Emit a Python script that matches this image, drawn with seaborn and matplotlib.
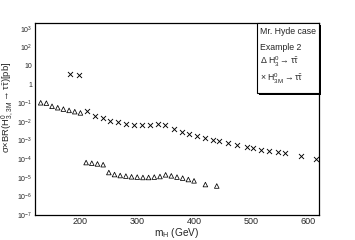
import matplotlib
matplotlib.use("Agg")
import numpy as np
import pandas as pd
import seaborn as sns
import matplotlib.pyplot as plt
from matplotlib.ticker import FixedLocator, FixedFormatter, MultipleLocator, LogLocator, NullFormatter
from matplotlib.patches import Rectangle

# -------------------------------
# DATA
# -------------------------------
# Delta: H3^0 -> tau tau
h3_mass = [130, 140, 150, 160, 170, 180, 190, 200,
           210, 220, 230, 240,
           250, 260, 270, 280, 290, 300, 310, 320, 330, 340, 350, 360, 370, 380, 390, 400,
           420, 440]
h3_xsec = [0.105, 0.10, 0.068, 0.057, 0.048, 0.041, 0.035, 0.030,
           6.5e-5, 6.0e-5, 5.5e-5, 5.0e-5,
           1.9e-5, 1.48e-5, 1.31e-5, 1.22e-5, 1.12e-5, 1.08e-5, 1.03e-5, 1.03e-5, 1.08e-5,
           1.16e-5, 1.43e-5, 1.26e-5, 1.08e-5, 9.5e-6, 8.0e-6, 6.8e-6,
           4.3e-6, 3.6e-6]

# x: H3M^0 -> tau tau
h3m_mass = [182, 197, 211, 226, 239, 252, 266, 280, 295, 308, 322, 336, 349,
            364, 378, 392, 406, 419, 433, 444, 460, 476, 494, 504, 518, 532,
            547, 561, 588, 615]
h3m_xsec = [3.7, 3.2, 0.039, 0.021, 0.016, 0.0106, 0.0094, 0.0073, 0.0067,
            0.0067, 0.0067, 0.0076, 0.0067, 0.0040, 0.0029, 0.0021, 0.0017,
            0.0014, 0.0011, 9.1e-4, 7.1e-4, 5.5e-4, 4.3e-4, 4.0e-4, 3.1e-4,
            2.7e-4, 2.3e-4, 2.1e-4, 1.4e-4, 1.07e-4]

y_tick_vals = [1e-7, 1e-6, 1e-5, 1e-4, 1e-3, 1e-2, 1e-1, 1, 10, 1e2, 1e3]
y_tick_labels = [r"$10^{-7}$", r"$10^{-6}$", r"$10^{-5}$", r"$10^{-4}$", r"$10^{-3}$",
                 r"$10^{-2}$", r"$10^{-1}$", "1", "10", r"$10^{2}$", r"$10^{3}$"]
x_tick_vals = [200, 300, 400, 500, 600]

legend_lines = ["Mr. Hyde case", "Example 2",
                r"$\Delta$ $\mathregular{H^0_3 \rightarrow \tau\bar{\tau}}$",
                r"$\times$ $\mathregular{H^0_{3M} \rightarrow \tau\bar{\tau}}$"]

df_h3 = pd.DataFrame({"mass": h3_mass, "xsec": h3_xsec})
df_h3m = pd.DataFrame({"mass": h3m_mass, "xsec": h3m_xsec})

# -------------------------------
# STYLE
# -------------------------------
sns.set_theme(style="white")
plt.rcParams["font.family"] = ["Liberation Sans", "DejaVu Sans"]
plt.rcParams["mathtext.fontset"] = "custom"
plt.rcParams["mathtext.rm"] = "Liberation Sans"
plt.rcParams["mathtext.it"] = "Liberation Sans:italic"
plt.rcParams["mathtext.bf"] = "Liberation Sans:bold"

fig = plt.figure(figsize=(3.55, 2.4), dpi=100)
ax = fig.add_axes([35 / 355, 25 / 240, 284 / 355, 192 / 240])

sns.scatterplot(data=df_h3, x="mass", y="xsec", ax=ax, marker="^", s=11,
                facecolors="none", edgecolor="black", linewidth=0.55)
sns.scatterplot(data=df_h3m, x="mass", y="xsec", ax=ax, marker="x", s=13,
                color="black", linewidth=0.65)

ax.set_yscale("log")
ax.set_xlim(120, 620)
ax.set_ylim(1e-7, 2e3)

ax.yaxis.set_major_locator(FixedLocator(y_tick_vals))
ax.yaxis.set_major_formatter(FixedFormatter(y_tick_labels))
ax.yaxis.set_minor_locator(LogLocator(base=10, subs=np.arange(2, 10), numticks=20))
ax.yaxis.set_minor_formatter(NullFormatter())
ax.xaxis.set_major_locator(FixedLocator(x_tick_vals))
ax.xaxis.set_minor_locator(MultipleLocator(20))

ax.tick_params(which="both", direction="in", top=False, right=False, color="black")
ax.tick_params(axis="x", which="major", length=4, width=0.7, labelsize=6.5, pad=1.5)
ax.tick_params(axis="x", which="minor", length=2, width=0.6)
ax.tick_params(axis="y", which="major", length=5, width=0.7, labelsize=5, pad=2)
ax.tick_params(axis="y", which="minor", length=3, width=0.5)
for sp in ax.spines.values():
    sp.set_color("black")
    sp.set_linewidth(0.9)

ax.set_xlabel(r"m$_\mathregular{H}$ (GeV)", fontsize=7.3, labelpad=0)
ax.set_ylabel("")
fig.text(8 / 355, 1 - 107 / 240,
         r"$\mathregular{\sigma{\times}BR(H^0_{3,3M} \rightarrow \tau\bar{\tau})[pb]}$",
         fontsize=6.8, rotation=90, ha="center", va="center")

# legend box with shadow (figure coordinates)
bx0, by0, bw, bh = 257 / 355, 1 - 93 / 240, 62 / 355, 70 / 240
fig.patches.append(Rectangle((bx0 + 2.2 / 355, by0 - 2.2 / 240), bw, bh, transform=fig.transFigure,
                             facecolor="black", edgecolor="none", zorder=5))
fig.patches.append(Rectangle((bx0, by0), bw, bh, transform=fig.transFigure,
                             facecolor="white", edgecolor="black", linewidth=0.8, zorder=6))
for txt, ypix in zip(legend_lines, [32, 47, 62, 79]):
    fig.text(260 / 355, 1 - ypix / 240, txt, fontsize=6.3, va="center", ha="left", zorder=7)

fig.savefig("out.png", dpi=100)
